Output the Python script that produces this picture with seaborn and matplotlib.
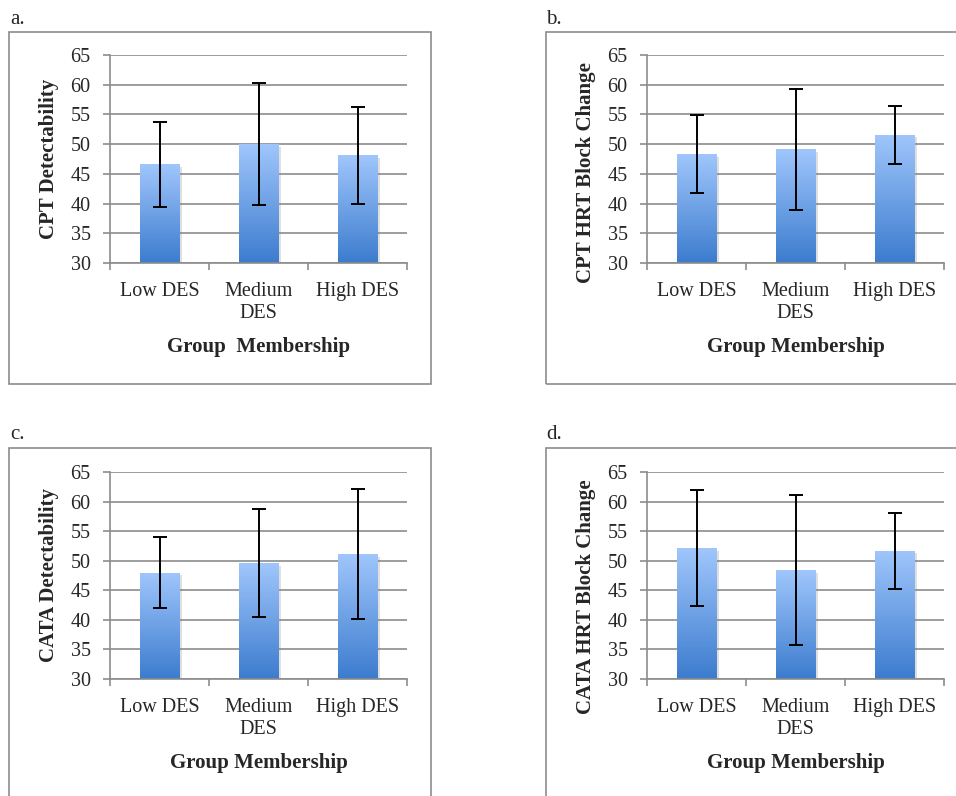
import numpy as np
import matplotlib
matplotlib.use("Agg")
import matplotlib.pyplot as plt
import matplotlib.patheffects as pe
from matplotlib.patches import Rectangle
import seaborn as sns

# group labels
groups = ["Low DES", "Medium\nDES", "High DES"]

# means and standard deviations
cpt_det_mean = [46.6, 50.0, 48.1]
cpt_det_sd = [7.2, 10.3, 8.1]
cpt_hrt_mean = [48.3, 49.1, 51.6]
cpt_hrt_sd = [6.6, 10.1, 4.9]
cata_det_mean = [48.0, 49.6, 51.1]
cata_det_sd = [6.0, 9.1, 11.0]
cata_hrt_mean = [52.1, 48.4, 51.7]
cata_hrt_sd = [9.8, 12.7, 6.4]

panel_letters = ["a.", "b.", "c.", "d."]
ylabels = ["CPT Detectability", "CPT HRT Block Change",
           "CATA Detectability", "CATA HRT Block Change"]
xlabels = ["Group  Membership", "Group Membership",
           "Group Membership", "Group Membership"]
yticks = [30, 35, 40, 45, 50, 55, 60, 65]

sns.set_style("white")
plt.rcParams['font.family'] = ['Liberation Serif', 'DejaVu Serif']

W, H = 956, 796
fig = plt.figure(figsize=(W / 100, H / 100), dpi=100)

GRAY = "#8c8c8c"
top_rgb = np.array([160, 198, 252]) / 255
bot_rgb = np.array([60, 124, 206]) / 255
grad = np.linspace(0, 1, 256)[:, None, None]
grad_img = top_rgb * (1 - grad) + bot_rgb * grad  # top row light, bottom dark

def px_rect(x0, y0, x1, y1):
    return [x0 / W, 1 - y1 / H, (x1 - x0) / W, (y1 - y0) / H]

# plot areas in pixels (left, top, right, bottom)
areas = [(110, 55, 407, 263), (647, 55, 944, 263),
         (110, 472, 407, 679), (647, 472, 944, 679)]
frames = [(9, 32, 431, 384), (546, 32, 962, 384),
          (9, 448, 431, 802), (546, 448, 962, 802)]
letter_pos = [(10, 19), (546, 19), (10, 435), (546, 435)]
ylab_y = [0.5, 0.433, 0.5, 0.40]

data = [(cpt_det_mean, cpt_det_sd), (cpt_hrt_mean, cpt_hrt_sd),
        (cata_det_mean, cata_det_sd), (cata_hrt_mean, cata_hrt_sd)]

for i, (means, sds) in enumerate(data):
    fx0, fy0, fx1, fy1 = frames[i]
    fig.add_artist(Rectangle((fx0 / W, 1 - fy1 / H), (fx1 - fx0) / W, (fy1 - fy0) / H,
                             transform=fig.transFigure, fill=False, ec=GRAY, lw=1.2))
    lx, ly = letter_pos[i]
    fig.text(lx / W, 1 - ly / H, panel_letters[i], fontsize=15, va="center", ha="left")

    ax = fig.add_axes(px_rect(*areas[i]))
    sns.barplot(x=groups, y=means, ax=ax, width=0.4, color="white", errorbar=None,
                zorder=2)

    # gradient fill for each bar
    for p in ax.patches:
        x0 = p.get_x()
        w = p.get_width()
        h = p.get_height()
        p.set_edgecolor("none")
        p.set_path_effects([pe.SimplePatchShadow(offset=(2, -2), alpha=0.25, shadow_rgbFace="#808080"),
                            pe.Normal()])
        im = ax.imshow(grad_img, extent=[x0, x0 + w, 30, h], aspect="auto",
                       zorder=2.5, interpolation="bilinear")
        im.set_clip_path(p)

    ax.errorbar(x=np.arange(len(groups)), y=means, yerr=sds, fmt="none",
                ecolor="black", elinewidth=1.4, capsize=5, capthick=1.4, zorder=4)

    ax.set_xlim(-0.5, 2.5)
    ax.set_ylim(30, 65)
    ax.set_yticks(yticks)
    ax.yaxis.grid(True, color=GRAY, lw=1.2)
    ax.set_axisbelow(True)
    for s in ["top", "right"]:
        ax.spines[s].set_visible(False)
    for s in ["left", "bottom"]:
        ax.spines[s].set_color(GRAY)
        ax.spines[s].set_linewidth(1.2)

    ax.tick_params(axis="y", length=5, width=1.2, color=GRAY, pad=9, labelsize=14.5,
                   direction="out", left=True)
    ax.tick_params(axis="x", which="major", length=0, pad=14, labelsize=14.5)
    ax.set_xticks([-0.5, 0.5, 1.5, 2.5], minor=True)
    ax.tick_params(axis="x", which="minor", length=5, width=1.2, color=GRAY,
                   direction="out", bottom=True)

    ax.set_ylabel(ylabels[i], fontsize=15, fontweight="bold")
    ax.yaxis.set_label_coords(-0.205, ylab_y[i])
    ax.yaxis.label.set_verticalalignment("center")
    ax.set_xlabel(xlabels[i], fontsize=15, fontweight="bold")
    ax.xaxis.set_label_coords(0.5, -0.405)
    ax.xaxis.label.set_verticalalignment("center")

fig.savefig("out.png", dpi=100)
